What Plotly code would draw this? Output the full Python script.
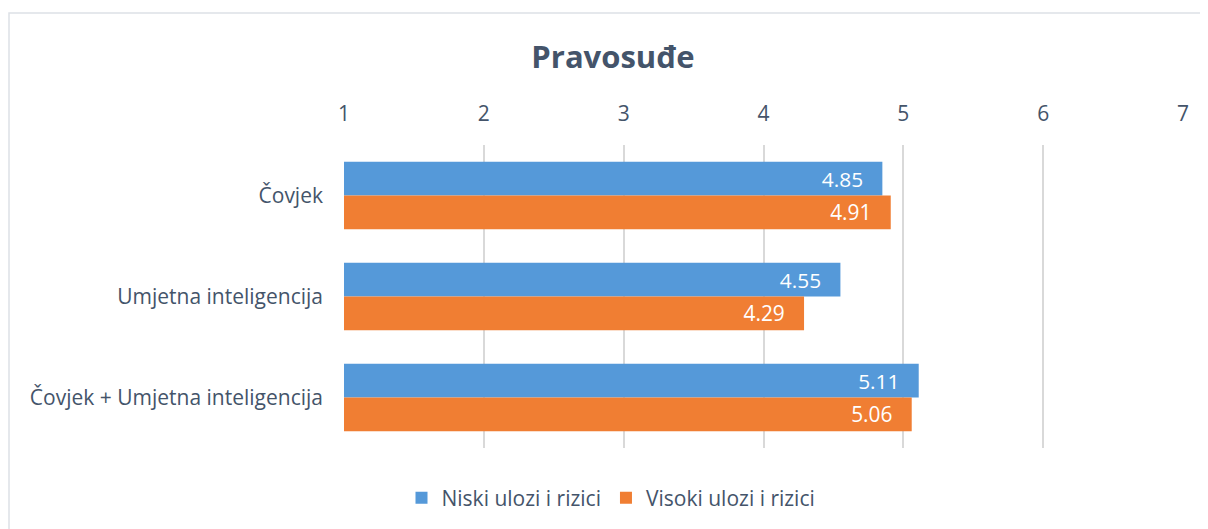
import plotly.graph_objects as go

categories = ["Čovjek", "Umjetna inteligencija", "Čovjek + Umjetna inteligencija"]
niski = [4.85, 4.55, 5.11]
visoki = [4.91, 4.29, 5.06]
series_names = ["Niski ulozi i rizici", "Visoki ulozi i rizici"]
tick_vals = [1, 2, 3, 4, 5, 6, 7]
title_text = "Pravosuđe"

# page body has an 8px margin; work in screen pixels and convert
OFF = 8
SW, SH = 1208, 529
W, H = SW - OFF, SH - OFF
PL, PR, PT, PB = 344, 1183, 145, 448  # plot area in screen px
L, R, T, B = PL - OFF, SW - PR, PT - OFF, SH - PB

def px(x):
    return (x - PL) / (PR - PL)

def py(y):
    return (PB - y) / (PB - PT)

FONT = "Open Sans"
TXT = "#44546a"
FS = 21
PAD = "\u00a0\u00a0\u00a0"

fig = go.Figure()
fig.add_trace(go.Bar(
    y=categories, x=niski, orientation="h", name=series_names[0],
    marker=dict(color="#5599d9", line=dict(width=0)),
    text=niski, texttemplate="%{x:.2f}" + PAD, textposition="inside",
    insidetextanchor="end", textfont=dict(color="white", size=FS, family=FONT),
))
fig.add_trace(go.Bar(
    y=categories, x=visoki, orientation="h", name=series_names[1],
    marker=dict(color="#f07e33", line=dict(width=0)),
    text=visoki, texttemplate="%{x:.2f}" + PAD, textposition="inside",
    insidetextanchor="end", textfont=dict(color="white", size=FS, family=FONT),
))

fig.update_layout(
    width=W, height=H,
    margin=dict(l=L, r=R, t=T, b=B, autoexpand=False),
    paper_bgcolor="white", plot_bgcolor="white",
    barmode="group", bargap=0.33, bargroupgap=0,
    font=dict(family=FONT, color=TXT, size=FS),
    title=dict(text="<b>" + title_text + "</b>", x=(613 - OFF) / W, xref="container",
               y=1 - (57 - OFF) / H, yref="container", xanchor="center", yanchor="middle",
               font=dict(size=31, color=TXT, family=FONT)),
    xaxis=dict(range=[1, 7], side="top", tickvals=tick_vals, showgrid=True,
               gridcolor="#d9d9d9", gridwidth=1.5, zeroline=False, showline=False,
               ticks="", ticklabelstandoff=19, tickfont=dict(size=FS, color=TXT)),
    yaxis=dict(autorange="reversed", showgrid=False, showline=False, ticks="",
               ticklabelstandoff=20, tickfont=dict(size=FS, color=TXT)),
    legend=dict(orientation="h", x=px(611), xanchor="center", y=py(498), yanchor="middle",
                font=dict(size=FS, color=TXT), traceorder="normal", itemwidth=30),
    showlegend=True,
)
fig.add_shape(type="rect", xref="paper", yref="paper",
              x0=px(9), x1=px(1220), y0=py(545), y1=py(13),
              line=dict(color="#dde1e6", width=1.5), fillcolor="rgba(0,0,0,0)", layer="below")

fig.write_html("out.html")
